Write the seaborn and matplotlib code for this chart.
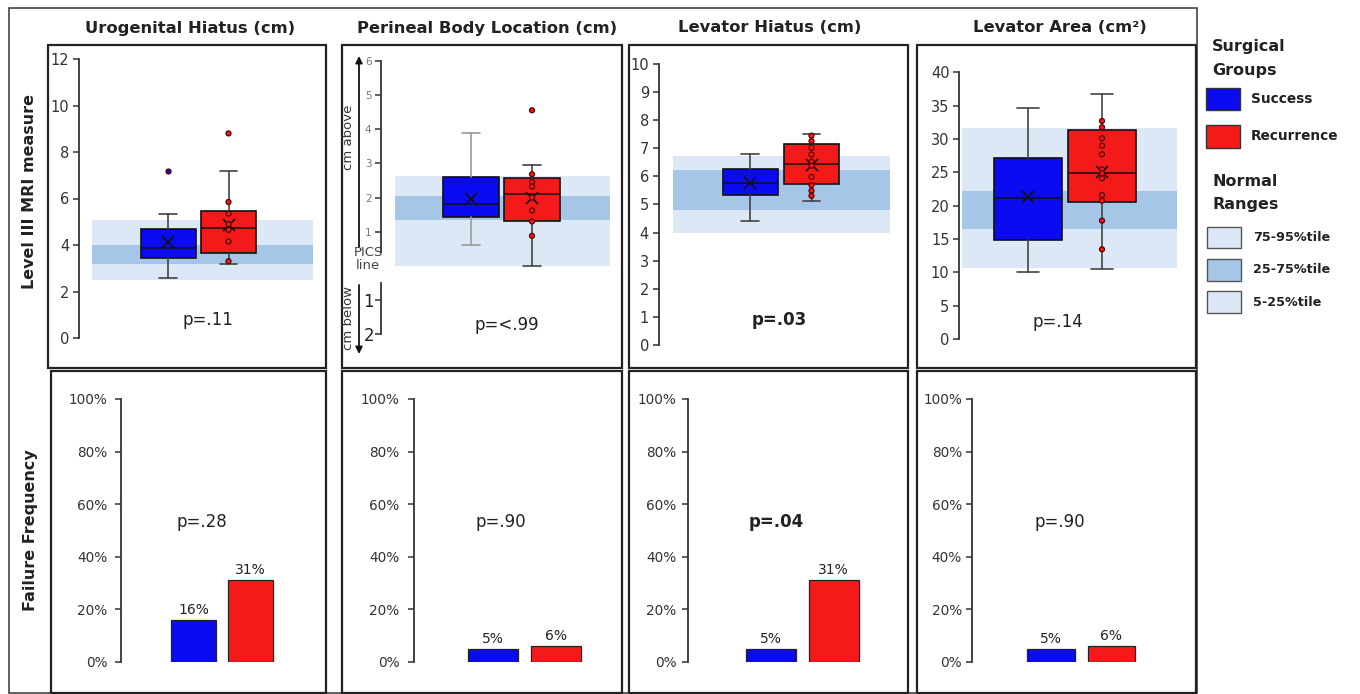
import matplotlib
matplotlib.use("Agg")
import matplotlib.pyplot as plt
import seaborn as sns
import pandas as pd
from matplotlib.patches import Rectangle

# ---------------- data ----------------
groups = ["Success", "Recurrence"]
group_colors = {"Success": "#0B0BF2", "Recurrence": "#F41A1A"}

titles = ["Urogenital Hiatus (cm)", "Perineal Body Location (cm)",
          "Levator Hiatus (cm)", "Levator Area (cm²)"]

# box statistics per measure: [Success, Recurrence]
box_q1 = [[3.46, 3.66], [1.42, 1.30], [5.35, 5.72], [14.8, 20.6]]
box_med = [[3.86, 4.74], [1.82, 2.11], [5.77, 6.43], [21.2, 24.9]]
box_q3 = [[4.67, 5.46], [2.61, 2.56], [6.27, 7.16], [27.2, 31.4]]
box_mean = [[4.13, 4.88], [1.96, 1.99], [5.77, 6.40], [21.3, 25.1]]
whisk_lo = [[2.60, 3.20], [0.62, 0.00], [4.43, 5.14], [10.1, 10.5]]
whisk_hi = [[5.35, 7.20], [3.90, 2.94], [6.81, 7.52], [34.6, 36.8]]

success_points = [[7.2], [], [], []]
recurrence_points = [
    [8.8, 5.85, 5.35, 4.9, 4.65, 4.15, 3.3],
    [4.55, 2.68, 2.45, 2.32, 2.0, 1.62, 1.3, 0.88],
    [7.45, 7.26, 7.02, 6.78, 6.52, 6.38, 5.98, 5.69, 5.49, 5.31],
    [32.7, 31.75, 30.1, 29.0, 27.7, 25.45, 24.85, 24.1, 21.6, 20.75, 17.75, 13.45],
]

# normal ranges: 5-95%tile (outer) and 25-75%tile (inner)
range_5_95 = [(2.5, 5.08), (0.0, 2.64), (4.0, 6.72), (10.6, 31.6)]
range_25_75 = [(3.17, 3.98), (1.35, 2.03), (4.82, 6.22), (16.5, 22.2)]

y_limits = [(0, 12), (-2, 6), (0, 10), (0, 40)]
y_ticks = [[0, 2, 4, 6, 8, 10, 12], [1, 2, 3, 4, 5, 6],
           list(range(0, 11)), list(range(0, 45, 5))]
pics_below_ticks = [-1, -2]
pics_below_labels = ["1", "2"]

p_mri = ["p=.11", "p=<.99", "p=.03", "p=.14"]
p_mri_bold = [False, False, True, False]

fail_success = [16, 5, 5, 5]
fail_recurrence = [31, 6, 31, 6]
pct_ticks = [0, 20, 40, 60, 80, 100]
p_fail = ["p=.28", "p=.90", "p=.04", "p=.90"]
p_fail_bold = [False, False, True, False]

legend_ranges = ["75-95%tile", "25-75%tile", "5-25%tile"]

# ---------------- style ----------------
W, H = 1360, 694
sns.set_theme(style="white")
plt.rcParams['font.family'] = ['DejaVu Sans']
LIGHT = "#DCE8F6"
DARK = "#A6C6E8"
INK = "#222222"

fig = plt.figure(figsize=(W / 100, H / 100), dpi=100)


def fx(x):
    return x / W


def fy(y):
    return 1 - y / H


def axes_px(x0, y0, x1, y1):
    return fig.add_axes([x0 / W, 1 - y1 / H, (x1 - x0) / W, (y1 - y0) / H])


def rect_px(x0, y0, x1, y1, **kw):
    r = Rectangle((x0 / W, 1 - y1 / H), (x1 - x0) / W, (y1 - y0) / H,
                  transform=fig.transFigure, **kw)
    fig.add_artist(r)
    return r


# outer frame and panel frames
rect_px(9, 8, 1197, 693, fill=False, lw=1.2, ec="#444")
top_frames = [(48, 326), (342, 621.5), (629, 907.5), (917, 1196)]
bot_frames = [(51, 326), (342, 621.5), (629, 907.5), (917, 1196)]
for x0, x1 in top_frames:
    rect_px(x0, 45, x1, 368, fill=False, lw=1.6, ec=INK)
for x0, x1 in bot_frames:
    rect_px(x0, 371, x1, 693, fill=False, lw=1.6, ec=INK)

# titles
title_x = [190, 487, 770, 1060]
for t, x in zip(titles, title_x):
    fig.text(fx(x), fy(28), t, ha="center", va="center", fontsize=11.8,
             fontweight="bold", color=INK)

# row labels
fig.text(fx(30), fy(191), "Level III MRI measure", rotation=90, ha="center",
         va="center", fontsize=11.5, fontweight="bold", color=INK)
fig.text(fx(30), fy(530), "Failure Frequency", rotation=90, ha="center",
         va="center", fontsize=11.5, fontweight="bold", color=INK)

# ---------------- top row: box plots ----------------
top_ax_x = [(92, 313), (395, 610), (673, 890), (962, 1177)]
top_ax_y = [(59, 338), (60.7, 334.3), (64, 345), (72.3, 339)]
top_spine_out = [9.3, 10, 10.3, 2]
top_blue_px = [168.2, 471, 750.3, 1027.8]
top_step_px = [60.3, 61, 61.2, 74.2]
top_boxw_px = [55, 56, 55.5, 67.7]
p_mri_xy = [(208, 320), (507, 325), (779, 320), (1058, 322)]

first_ax = None
for i in range(4):
    x0, x1 = top_ax_x[i]
    y0, y1 = top_ax_y[i]
    ax = axes_px(x0, y0, x1, y1)
    if first_ax is None:
        first_ax = ax
    ax.patch.set_alpha(0)
    step = top_step_px[i]
    w = top_boxw_px[i] / step

    ax.axhspan(*range_5_95[i], color=LIGHT, lw=0, zorder=0)
    ax.axhspan(*range_25_75[i], color=DARK, lw=0, zorder=0.5)

    stats = []
    for g in range(2):
        stats.append(dict(q1=box_q1[i][g], med=box_med[i][g], q3=box_q3[i][g],
                          whislo=whisk_lo[i][g], whishi=whisk_hi[i][g],
                          mean=box_mean[i][g], fliers=[]))
    whisk_col = "#9a9a9a" if i == 1 else "#444"
    bp = ax.bxp(stats, positions=[0, 1], widths=w, patch_artist=True,
                showmeans=True, showfliers=False, capwidths=0.32 * w,
                boxprops=dict(edgecolor="#111", linewidth=1.2),
                medianprops=dict(color="#111", linewidth=1.1),
                whiskerprops=dict(color="#444", linewidth=1.2),
                capprops=dict(color="#444", linewidth=1.2),
                meanprops=dict(marker="x", markeredgecolor="#111",
                               markersize=9, markeredgewidth=1.2))
    for patch, g in zip(bp["boxes"], groups):
        patch.set_facecolor(group_colors[g])
        patch.set_zorder(2)
    if i == 1:
        for ln in bp["whiskers"][:2] + bp["caps"][:2]:
            ln.set_color(whisk_col)

    pts = pd.DataFrame({
        "group": ["Success"] * len(success_points[i]) + ["Recurrence"] * len(recurrence_points[i]),
        "value": success_points[i] + recurrence_points[i],
    })
    sns.stripplot(data=pts, x="group", y="value", hue="group", order=groups,
                  hue_order=groups, palette=group_colors, jitter=False, size=3.6,
                  linewidth=0.9, edgecolor="#550000", legend=False, ax=ax, zorder=4)

    ax.set_xlim((x0 - top_blue_px[i]) / step, (x1 - top_blue_px[i]) / step)
    ax.set_ylim(*y_limits[i])
    ax.set_xticks([])
    ax.set_xlabel("")
    ax.set_ylabel("")
    for s in ["top", "right", "bottom"]:
        ax.spines[s].set_visible(False)
    ax.spines["left"].set_position(("outward", top_spine_out[i]))
    ax.spines["left"].set_color("#333")
    ax.spines["left"].set_linewidth(1.3)
    ax.set_yticks(y_ticks[i])
    if i == 1:
        ax.spines["left"].set_bounds(0.4, 6)
        ax.tick_params(axis="y", left=True, length=4, width=1.1, color="#333",
                       labelsize=7.5, labelcolor="#777", pad=3)
        # lower part (cm below PICS line)
        axb = axes_px(x0, y0, x1, y1)
        axb.patch.set_alpha(0)
        axb.set_ylim(*y_limits[i])
        axb.set_xticks([])
        for s in ["top", "right", "bottom"]:
            axb.spines[s].set_visible(False)
        axb.spines["left"].set_position(("outward", top_spine_out[i]))
        axb.spines["left"].set_color("#333")
        axb.spines["left"].set_linewidth(1.3)
        axb.spines["left"].set_bounds(-2, -0.5)
        axb.set_yticks(pics_below_ticks)
        axb.set_yticklabels(pics_below_labels)
        axb.tick_params(axis="y", left=True, length=4, width=1.1, color="#333",
                        labelsize=12, labelcolor=INK, pad=1)
    else:
        ax.tick_params(axis="y", left=True, length=4, width=1.1, color="#333",
                       labelsize=10.5, labelcolor="#333", pad=3)
    ax.grid(False)

    px, py = p_mri_xy[i]
    fig.text(fx(px), fy(py), p_mri[i], ha="center", va="center", fontsize=12,
             fontweight="bold" if p_mri_bold[i] else "normal", color=INK)

# perineal body annotations
ann_kw = dict(xycoords="figure fraction", textcoords="figure fraction",
              arrowprops=dict(arrowstyle="-|>", color="#111", lw=1.3,
                              mutation_scale=10, shrinkA=0, shrinkB=0))
first_ax.annotate("", xy=(fx(359), fy(56)), xytext=(fx(359), fy(247)), **ann_kw)
first_ax.annotate("", xy=(fx(359), fy(354)), xytext=(fx(359), fy(285)), **ann_kw)
fig.text(fx(348), fy(137), "cm above", rotation=90, ha="center", va="center",
         fontsize=9.5, color="#333")
fig.text(fx(348), fy(318), "cm below", rotation=90, ha="center", va="center",
         fontsize=9.5, color="#333")
fig.text(fx(368), fy(259), "PICS\nline", ha="center", va="center",
         fontsize=9.5, color="#444", linespacing=1.0)

# ---------------- bottom row: failure frequency ----------------
bot_spine_x = [121, 414.3, 687.7, 971.7]
bot_right = [315, 610, 897, 1185]
bot_blue_px = [193.5, 493, 770.8, 1051]
bot_step_px = [56.7, 62.8, 63, 60.4]
bot_pad = [5.8, 6.5, 4.0, 3.0]
p_fail_xy = [(202, 522), (501, 522), (776, 522), (1060, 522)]

for i in range(4):
    x0, x1 = bot_spine_x[i], bot_right[i]
    ax = axes_px(x0, 399, x1, 661.7)
    ax.patch.set_alpha(0)
    df = pd.DataFrame({"group": groups,
                       "pct": [fail_success[i], fail_recurrence[i]]})
    sns.barplot(data=df, x="group", y="pct", hue="group", order=groups,
                hue_order=groups, palette=group_colors, width=0.79,
                edgecolor="#222", linewidth=0.9, legend=False, ax=ax,
                saturation=1)
    for c in ax.containers:
        ax.bar_label(c, fmt="{:.0f}%", padding=2, fontsize=10, color=INK)
    step = bot_step_px[i]
    ax.set_xlim((x0 - bot_blue_px[i]) / step, (x1 - bot_blue_px[i]) / step)
    ax.set_ylim(0, 100)
    ax.set_yticks(pct_ticks)
    ax.set_yticklabels([f"{t}%" for t in pct_ticks])
    ax.set_xticks([])
    ax.set_xlabel("")
    ax.set_ylabel("")
    for s in ["top", "right", "bottom"]:
        ax.spines[s].set_visible(False)
    ax.spines["left"].set_color("#333")
    ax.spines["left"].set_linewidth(1.3)
    ax.tick_params(axis="y", left=True, length=4, width=1.1, color="#333",
                   labelsize=9.8, labelcolor="#333", pad=bot_pad[i])
    ax.grid(False)
    px, py = p_fail_xy[i]
    fig.text(fx(px), fy(py), p_fail[i], ha="center", va="center", fontsize=12,
             fontweight="bold" if p_fail_bold[i] else "normal", color=INK)

# ---------------- legend ----------------
fig.text(fx(1212), fy(47), "Surgical", ha="left", va="center", fontsize=11.5,
         fontweight="bold", color=INK)
fig.text(fx(1212), fy(70), "Groups", ha="left", va="center", fontsize=11.5,
         fontweight="bold", color=INK)
leg_y = [(88, 110), (125, 148)]
for g, (a, b) in zip(groups, leg_y):
    rect_px(1206, a, 1240, b, fc=group_colors[g], ec="#333", lw=1)
    fig.text(fx(1251), fy((a + b) / 2), g, ha="left", va="center",
             fontsize=9.8, fontweight="bold", color=INK)
fig.text(fx(1212), fy(182), "Normal", ha="left", va="center", fontsize=11.5,
         fontweight="bold", color=INK)
fig.text(fx(1212), fy(205), "Ranges", ha="left", va="center", fontsize=11.5,
         fontweight="bold", color=INK)
range_y = [(227, 248), (259, 281), (291, 313)]
range_cols = [LIGHT, DARK, LIGHT]
for lab, (a, b), c in zip(legend_ranges, range_y, range_cols):
    rect_px(1207, a, 1241, b, fc=c, ec="#555", lw=1)
    fig.text(fx(1253), fy((a + b) / 2), lab, ha="left", va="center",
             fontsize=9.2, fontweight="bold", color=INK)

fig.savefig("out.png", dpi=100)
